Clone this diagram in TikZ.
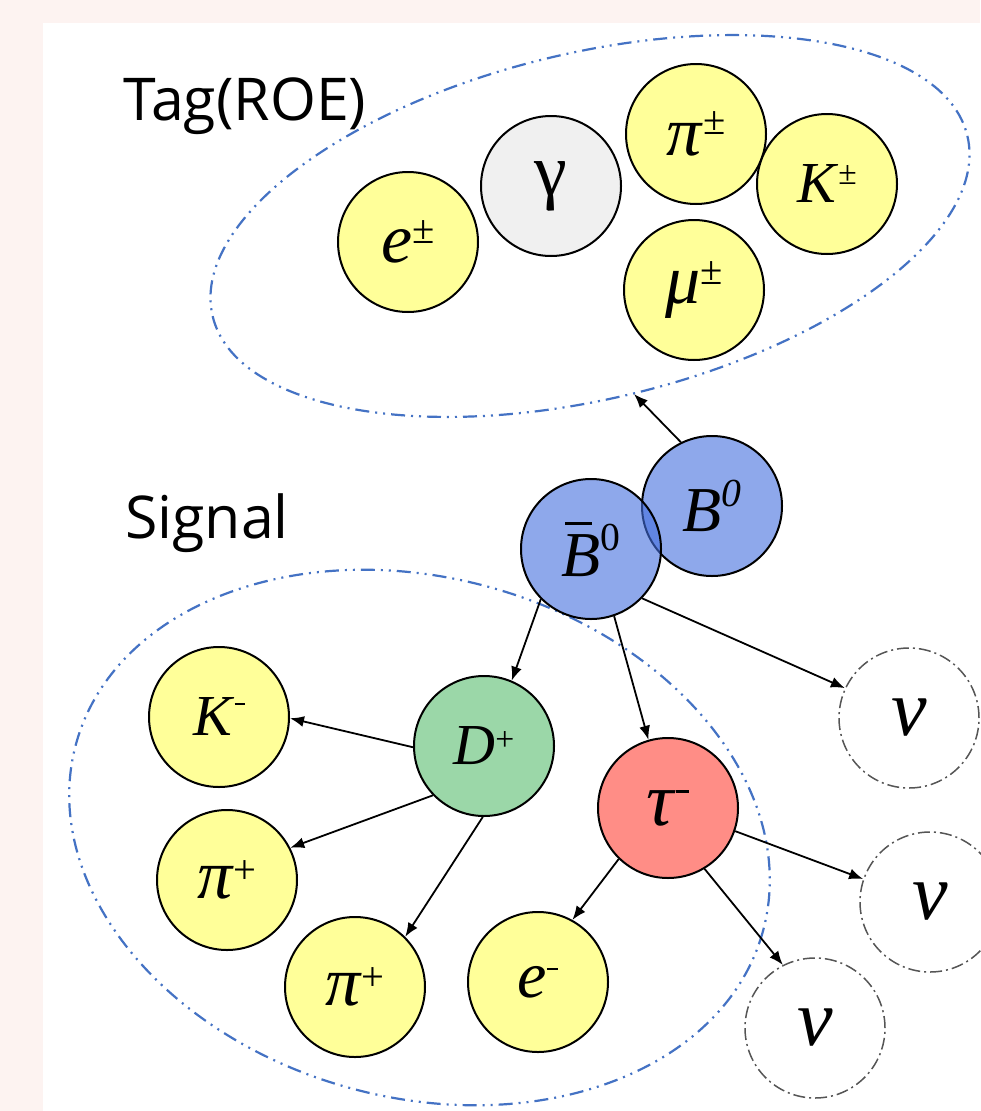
\documentclass[tikz,border=0pt]{standalone}
\usepackage{fontspec}
\setmainfont{Liberation Serif}
\newfontfamily\headfont{Open Sans}
\usetikzlibrary{arrows.meta}

\definecolor{pagebg}{RGB}{253,243,241}
\definecolor{leptonyellow}{RGB}{255,255,153}
\definecolor{photongray}{RGB}{240,240,240}
\definecolor{mesonblue}{RGB}{68,110,223}
\definecolor{dmeson}{RGB}{155,215,168}
\definecolor{taured}{RGB}{255,141,134}
\definecolor{groupblue}{RGB}{68,114,196}
\definecolor{nugray}{RGB}{85,85,85}

% particle symbol with a raised charge (optional argument: how high)
\newcommand\pname[3][0.42em]{\textit{#2}\raisebox{#1}{\scalebox{0.58}{#3}}}
\newcommand\chminus{\rule[0.2em]{0.3em}{0.07em}}
\newcommand\fsz[1]{\fontsize{#1}{#1}\selectfont}

\begin{document}
\begin{tikzpicture}[x=1pt,y=-1pt,
  particle/.style={circle,draw=black,line width=2pt,minimum size=140pt,inner sep=0pt,
    font=\fsz{58}},
  lepton/.style={particle,fill=leptonyellow},
  photon/.style={particle,fill=photongray},
  bmeson/.style={particle,fill=mesonblue,fill opacity=0.6,text opacity=1,
    font=\fsz{64}},
  dnode/.style={particle,fill=dmeson},
  taunode/.style={particle,fill=taured},
  neutrino/.style={particle,draw=nugray,line width=1.5pt,fill=white,
    dash pattern=on 12pt off 4pt on 2pt off 4pt,font=\fsz{80}},
  arr/.style={-{Latex[length=14pt,width=11pt]},line width=1.8pt},
  group/.style={draw=groupblue,line width=2.2pt,
    dash pattern=on 14pt off 6pt on 2pt off 6pt on 2pt off 6pt},
  heading/.style={anchor=base west,inner sep=0pt,font=\headfont\fsz{59}}
]
% page
\fill[pagebg] (0,0) rectangle (980,1111);
\fill[white] (43,23) rectangle (980,1111);
\useasboundingbox (0,0) rectangle (980,1111);

% groups
\draw[group,rotate around={13.44:(590,226)}] (590,226) ellipse [x radius=388, y radius=173];
\draw[group,rotate around={-15.2:(419.5,837.5)}] (419.5,837.5) ellipse [x radius=356, y radius=260];
\coordinate (tagtip) at (634,394);

\node[heading] (tag) at (123,120) {Tag(ROE)};
\node[heading] (sig) at (125,538) {Signal};

% tag side
\node[lepton,font=\fsz{70}] (etag) at (408,242) {\pname[0.27em]{e}{±}};
\node[photon,font=\fsz{74}] (gam) at (551,186) {γ};
\node[lepton,font=\fsz{70}] (pitag) at (696,134) {\pname[0.3em]{π}{±}};
\node[lepton] (ktag) at (827,184) {\pname[0.32em]{K}{±}};
\node[lepton,font=\fsz{70}] (mutag) at (694,290) {\pname[0.27em]{μ}{±}};

% B pair
\node[bmeson] (B) at (712,506) {\textit{B}\raisebox{0.4em}{\scalebox{0.62}{\textit{0}}}};
\node[bmeson] (Bb) at (591,549) {\rlap{\hspace{0.06em}\rule[0.8em]{0.42em}{0.05em}}\textit{B}\raisebox{0.4em}{\scalebox{0.62}{0}}};

% signal side
\node[dnode] (D) at (484,746) {\pname[0.25em]{D}{+}};
\node[taunode,font=\fsz{76}] (tau) at (668,808) {\pname[0.32em]{τ}{\chminus}};
\node[lepton] (K) at (219,717) {\pname{K}{\chminus}};
\node[lepton,font=\fsz{70}] (pia) at (227,880) {\pname[0.22em]{π}{+}};
\node[lepton,font=\fsz{70}] (pib) at (355,987) {\pname[0.22em]{π}{+}};
\node[lepton,font=\fsz{66}] (e) at (538,982) {\pname[0.29em]{e}{\chminus}};
\node[neutrino] (nua) at (909,718) {\textit{ν}};
\node[neutrino] (nub) at (930,902) {\textit{ν}};
\node[neutrino] (nuc) at (815,1028) {\textit{ν}};

% decays
\draw[arr] (B.116) -- (tagtip);
\draw[arr] (Bb.225) -- (D.67);
\draw[arr] (Bb.289) -- (tau.106);
\draw[arr] (Bb.316) -- (nua.155);
\draw[arr] (D.181) -- (K.359);
\draw[arr] (D.224) -- (pia.27);
\draw[arr] (D.269) -- (pib.45);
\draw[arr] (tau.226) -- (e.61);
\draw[arr] (tau.341) -- (nub.161);
\draw[arr] (tau.301) -- (nuc.117);
\end{tikzpicture}
\end{document}
